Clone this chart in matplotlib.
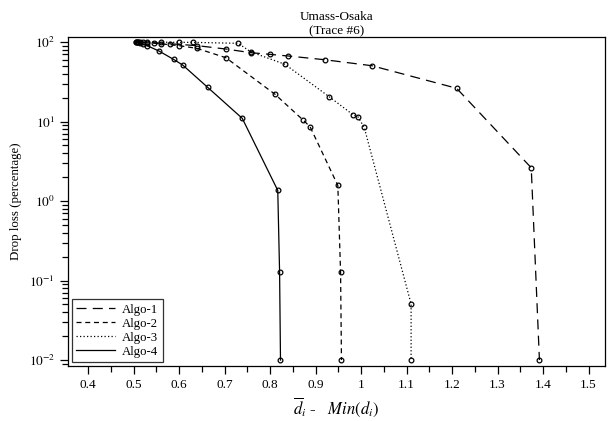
import numpy as np
import matplotlib
matplotlib.use("Agg")
import matplotlib.pyplot as plt
from matplotlib.ticker import FixedLocator, LogLocator, NullFormatter

plt.rcParams['font.family'] = ['Liberation Serif', 'DejaVu Serif']
plt.rcParams['mathtext.fontset'] = 'stix'

# data (x = mean delay - min delay, y = drop loss %)
algo1_x = [0.507, 0.52, 0.545, 0.58, 0.64, 0.703, 0.758, 0.799, 0.840, 0.921, 1.024, 1.210, 1.374, 1.392]
algo1_y = [100, 99.5, 98, 95, 90, 81.6, 73.4, 70.0, 66.7, 59.8, 50.3, 26.2, 2.62, 0.01]

algo2_x = [0.505, 0.515, 0.53, 0.56, 0.60, 0.639, 0.703, 0.811, 0.873, 0.888, 0.949, 0.955, 0.957]
algo2_y = [100, 99, 98, 95, 90, 83.3, 63.5, 22.0, 10.4, 8.6, 1.57, 0.128, 0.01]

algo3_x = [0.51, 0.53, 0.56, 0.60, 0.630, 0.730, 0.758, 0.833, 0.930, 0.983, 0.993, 1.007, 1.110, 1.110]
algo3_y = [100, 100, 99.5, 99, 99, 96.3, 75, 52.4, 20.5, 12.1, 11.5, 8.45, 0.0506, 0.01]

algo4_x = [0.505, 0.51, 0.515, 0.52, 0.53, 0.556, 0.588, 0.608, 0.663, 0.739, 0.817, 0.821, 0.823]
algo4_y = [100, 99, 98, 95, 90, 77, 60.5, 51.4, 26.9, 10.96, 1.36, 0.128, 0.01]

labels = ['Algo-1', 'Algo-2', 'Algo-3', 'Algo-4']
styles = [(0, (8, 5)), (0, (4, 3)), (0, (1, 1.8)), '-']

xticks = [0.4, 0.5, 0.6, 0.7, 0.8, 0.9, 1.0, 1.1, 1.2, 1.3, 1.4, 1.5]
xticklabels = ['0.4', '0.5', '0.6', '0.7', '0.8', '0.9', '1', '1.1', '1.2', '1.3', '1.4', '1.5']
xminor = [0.45, 0.55, 0.65, 0.75, 0.85, 0.95, 1.05, 1.15, 1.25, 1.35, 1.45]
yticks = [1e-2, 1e-1, 1e0, 1e1, 1e2]
yticklabels = [r'$10^{-2}$', r'$10^{-1}$', r'$10^{0}$', r'$10^{1}$', r'$10^{2}$']

fig = plt.figure(figsize=(6.08, 4.21), dpi=100)
ax = fig.add_axes([0.1118, 0.1306, 0.8832, 0.7815])

series = [(algo1_x, algo1_y), (algo2_x, algo2_y), (algo3_x, algo3_y), (algo4_x, algo4_y)]
for (xs, ys), lab, ls in zip(series, labels, styles):
    ax.plot(xs, ys, color='black', lw=0.9, linestyle=ls, label=lab)
    ax.plot(xs, ys, linestyle='none', marker='o', ms=3.4, mfc='none',
            mec='black', mew=0.9)

ax.set_yscale('log')
ax.set_xlim(0.356, 1.536)
ax.set_ylim(10**-2.075, 10**2.063)

ax.xaxis.set_major_locator(FixedLocator(xticks))
ax.set_xticklabels(xticklabels)
ax.xaxis.set_minor_locator(FixedLocator(xminor))
ax.yaxis.set_major_locator(FixedLocator(yticks))
ax.set_yticklabels(yticklabels)
ax.yaxis.set_minor_locator(LogLocator(base=10, subs=np.arange(2, 10)))
ax.yaxis.set_minor_formatter(NullFormatter())

ax.tick_params(which='major', direction='out', length=6, width=0.9, labelsize=9.5)
ax.tick_params(which='minor', direction='out', length=4, width=0.9)
for s in ax.spines.values():
    s.set_linewidth(0.9)

ax.set_title('Umass-Osaka\n(Trace #6)', fontsize=9.5, pad=1, linespacing=1.2)
ax.set_ylabel('Drop loss (percentage)', fontsize=9.3, labelpad=5)
ax.set_xlabel(r'$\overline{d}_i$ -   $Min(d_i)$', fontsize=12, labelpad=3)

leg = ax.legend(loc='lower left', fontsize=9.2, frameon=True, fancybox=False,
                edgecolor='black', handlelength=3.0, handletextpad=0.6,
                borderpad=0.35, labelspacing=0.15, borderaxespad=0.3)
leg.get_frame().set_linewidth(0.9)

fig.savefig('out.png', dpi=100)
